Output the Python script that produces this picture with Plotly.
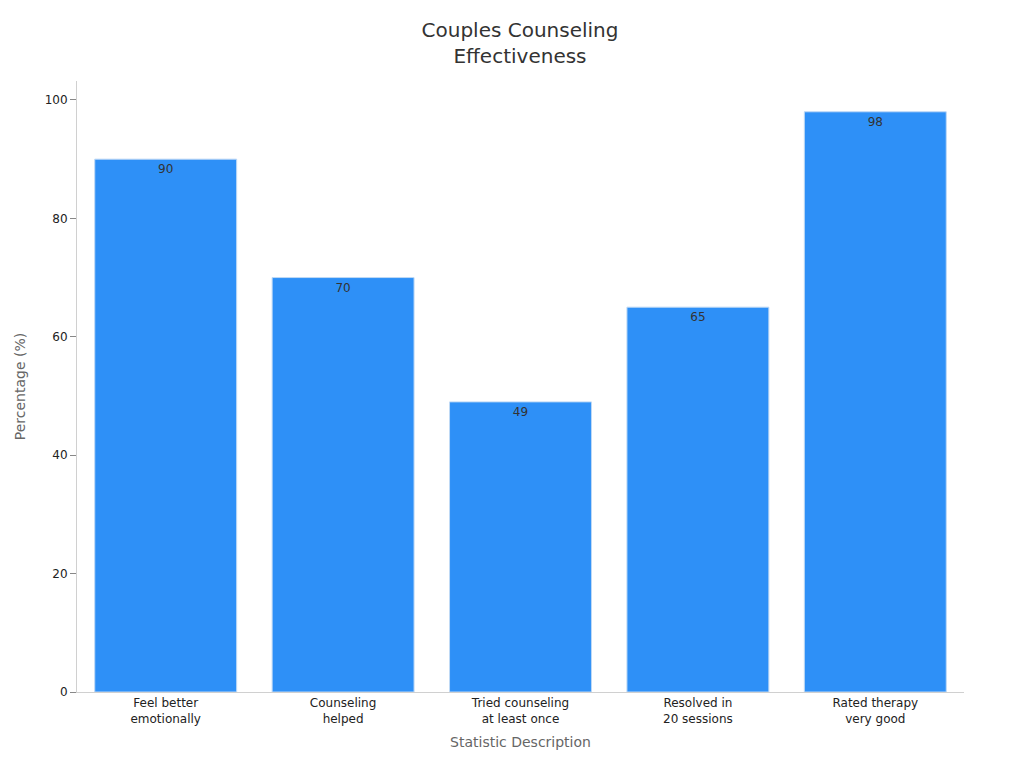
import plotly.graph_objects as go

categories = ["Feel better<br>emotionally", "Counseling<br>helped", "Tried counseling<br>at least once", "Resolved in<br>20 sessions", "Rated therapy<br>very good"]
values = [90, 70, 49, 65, 98]

fig = go.Figure(go.Bar(
    x=categories, y=values, text=[str(v) for v in values],
    textposition="inside", insidetextanchor="end",
    textfont=dict(color="#333333", size=12),
    marker=dict(color="#2E90F7", line=dict(color="#BFD9F5", width=1)),
    width=0.8,
))
fig.update_layout(
    width=1024, height=768,
    font=dict(family="DejaVu Sans, sans-serif", color="#222222", size=12),
    title=dict(text="Couples Counseling<br>Effectiveness", x=0.5, xanchor="center", y=0.962,
               font=dict(size=20, color="#333333")),
    plot_bgcolor="white", paper_bgcolor="white",
    margin=dict(l=61, r=68, t=73, b=84),
    showlegend=False,
    xaxis=dict(title=dict(text="Statistic Description", font=dict(size=14, color="#666666"), standoff=12),
               showline=True, linecolor="#D0D0D0", ticks="", tickfont=dict(size=12)),
    yaxis=dict(title=dict(text="Percentage (%)", font=dict(size=14, color="#666666")),
               range=[0, 103.2], dtick=20, showgrid=False, zeroline=False,
               showline=True, linecolor="#D0D0D0", ticks="outside", ticklen=6, tickcolor="#888888"),
)
fig.write_html("out.html")
